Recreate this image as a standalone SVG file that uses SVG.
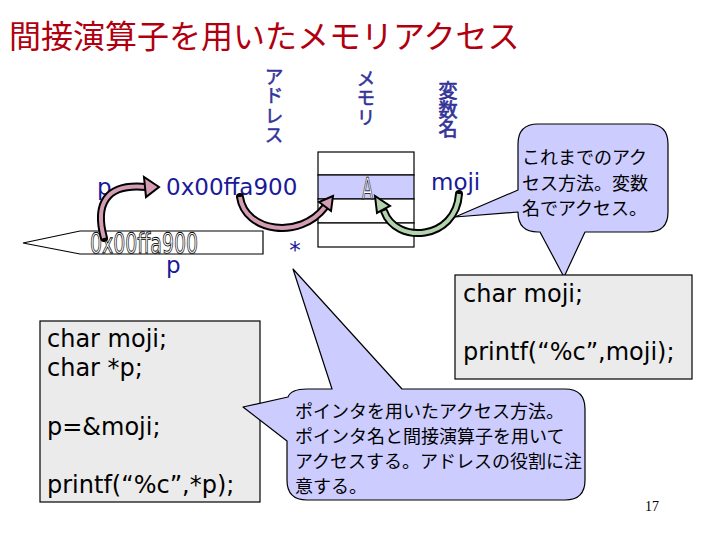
<svg xmlns="http://www.w3.org/2000/svg" width="720" height="540" viewBox="0 0 720 540">
<style>
.lbl{font-family:"DejaVu Sans","Liberation Sans",sans-serif;font-size:23px;fill:#1A1A99}
.vt{font-family:"Noto Sans CJK JP",sans-serif;font-size:19px;fill:#333399;stroke:#333399;stroke-width:0.5;writing-mode:vertical-rl}
.code{font-family:"DejaVu Sans","Liberation Sans",sans-serif;font-size:24px;fill:#000}
.jp{font-family:"Noto Sans CJK JP",sans-serif;font-size:18px;fill:#000}
.box{fill:#EBEBEB;stroke:#000;stroke-width:1.2}
.call{fill:#CCCCFF;stroke:#000;stroke-width:1.2;stroke-linejoin:round}
.cell{fill:#fff;stroke:#000;stroke-width:1.2}
.outl{font-family:"DejaVu Sans","Liberation Sans",sans-serif;fill:#ffffff;stroke:#000000;stroke-width:0.9;text-rendering:geometricPrecision}
.arrO{fill:none;stroke:#000;stroke-width:8;stroke-linecap:round}
.arrP{fill:none;stroke:#D49DB4;stroke-width:4}
</style>
<rect width="720" height="540" fill="#fff"/>
<g id="title">
<text x="9" y="48" font-family="'Noto Sans CJK JP',sans-serif" font-size="32" fill="#B00010">間接演算子を用いたメモリアクセス</text>
</g>
<g id="label-address">
<text class="vt" x="274" y="67" letter-spacing="0.5">アドレス</text>
</g>
<g id="label-memory">
<text class="vt" x="366" y="69" letter-spacing="0.5" font-size="18">メモリ</text>
</g>
<g id="label-varname">
<text class="vt" x="448" y="81" font-size="20" style="stroke-width:0.7">変数名</text>
</g>
<g id="memory">
<rect class="cell" x="318" y="152" width="96" height="23"/>
<rect class="cell" x="318" y="175" width="96" height="24" style="fill:#CCCCFF"/>
<rect class="cell" x="318" y="199" width="96" height="24"/>
<rect class="cell" x="318" y="223" width="96" height="24"/>
<text class="outl" x="362" y="199" font-size="30" textLength="11" lengthAdjust="spacingAndGlyphs">A</text>
</g>
<g id="pointer">
<polygon points="23,243 80,231 263,231 263,254 80,254" fill="#fff" stroke="#000" stroke-width="1.2"/>
<text class="outl" x="90" y="253" font-size="28" textLength="108" lengthAdjust="spacingAndGlyphs">0x00ffa900</text>
</g>
<g id="label-p"><text class="lbl" x="97" y="195">p</text></g>
<g id="label-addr-value"><text class="lbl" x="166" y="195">0x00ffa900</text></g>
<g id="label-p2"><text class="lbl" x="166" y="273">p</text></g>
<g id="label-star"><text class="lbl" x="295" y="258" text-anchor="middle">*</text></g>
<g id="label-moji"><text class="lbl" x="431" y="190">moji</text></g>
<g id="connectors">
<path class="arrO" d="M104,238 C95,205 105,183 146,187"/>
<path class="arrP" d="M104,238 C95,205 105,183 146,187"/>
<polygon points="159,187 144,177 146,197" fill="#D49DB4" stroke="#000" stroke-width="2"/>
<path class="arrO" d="M240,197 C245,232 300,240 325,207"/>
<path class="arrP" d="M240,197 C245,232 300,240 325,207"/>
<polygon points="333,196 319,202 331,211" fill="#D49DB4" stroke="#000" stroke-width="2"/>
<path class="arrO" d="M459,194 C456,240 396,245 384,211"/>
<path class="arrP" style="stroke:#B3D3AE" d="M459,194 C456,240 396,245 384,211"/>
<polygon points="375,196 377,213 390,206" fill="#B3D3AE" stroke="#000" stroke-width="2"/>
</g>
<g id="callout-variable">
<path class="call" d="M538,124 H648 Q668,124 668,144 V212 Q668,232 648,232 H585 L564,277 L540,232 H538 Q518,232 518,212 L455,217 L518,190 V144 Q518,124 538,124 Z"/>
<text class="jp" x="522" y="164">これまでのアク</text>
<text class="jp" x="522" y="190">セス方法。変数</text>
<text class="jp" x="522" y="215">名でアクセス。</text>
</g>
<g id="code-right">
<rect class="box" x="455" y="275" width="237" height="104"/>
<text class="code" x="463" y="302">char moji;</text>
<text class="code" x="463" y="360">printf(“%c”,moji);</text>
</g>
<g id="code-left">
<rect class="box" x="40" y="321" width="220" height="181"/>
<text class="code" x="47" y="347">char moji;</text>
<text class="code" x="47" y="376">char *p;</text>
<text class="code" x="47" y="435">p=&amp;moji;</text>
<text class="code" x="47" y="493">printf(“%c”,*p);</text>
</g>
<g id="callout-pointer">
<path class="call" d="M307,389 H332 L293,269 L402,389 H565 Q585,389 585,409 V480 Q585,500 565,500 H307 Q287,500 287,480 V441 L243,407 L288,397 Q291,389 307,389 Z"/>
<text class="jp" x="295" y="418">ポインタを用いたアクセス方法。</text>
<text class="jp" x="295" y="443">ポインタ名と間接演算子を用いて</text>
<text class="jp" x="295" y="468">アクセスする。アドレスの役割に注</text>
<text class="jp" x="295" y="493">意する。</text>
</g>
<g id="page-number"><text x="645" y="511" font-family="'Liberation Serif',serif" font-size="14" fill="#000">17</text></g>
</svg>
